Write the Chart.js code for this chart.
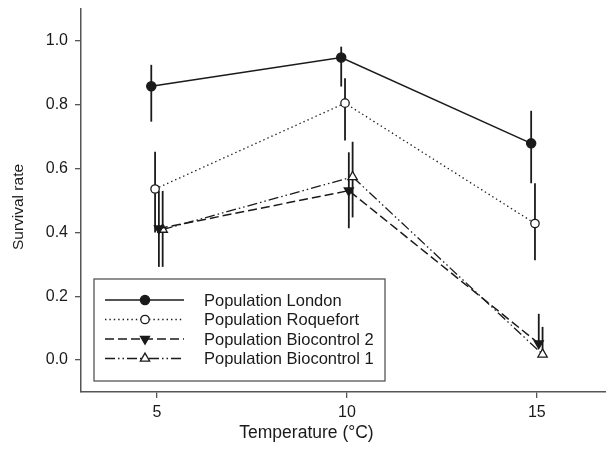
<!DOCTYPE html>
<html><head><meta charset="utf-8">
<script src="https://cdn.jsdelivr.net/npm/chart.js@4.4.1/dist/chart.umd.min.js"></script>
<style>html,body{margin:0;padding:0;background:#fff;} #wrap{width:606px;height:455px;position:relative;}</style>
</head><body><div id="wrap"><canvas id="c" width="606" height="455"></canvas></div>
<script>
// ---- data ----
const temperatures = [5, 10, 15];
const yTicks = [0, 0.2, 0.4, 0.6, 0.8, 1.0];
const seriesNames = ['Population London', 'Population Roquefort', 'Population Biocontrol 2', 'Population Biocontrol 1'];
const london = [0.858, 0.948, 0.679];
const londonUpper = [0.925, 0.982, 0.781];
const londonLower = [0.747, 0.857, 0.554];
const roquefort = [0.536, 0.805, 0.428];
const roquefortUpper = [0.653, 0.883, 0.554];
const roquefortLower = [0.400, 0.688, 0.313];
const biocontrol2 = [0.412, 0.531, 0.052];
const biocontrol2Upper = [0.530, 0.651, 0.145];
const biocontrol2Lower = [0.292, 0.413, 0.052];
const biocontrol1 = [0.409, 0.574, 0.018];
const biocontrol1Upper = [0.530, 0.684, 0.104];
const biocontrol1Lower = [0.292, 0.447, 0.018];
const dodge = [-0.15, -0.05, 0.05, 0.15];
const xTitle = 'Temperature (°C)';
const yTitle = 'Survival rate';

const FONT = '"Liberation Sans", Arial, sans-serif';
const INK = '#1a1a1a';

function pts(vals, hi, lo, k) {
  return temperatures.map((t, i) => ({ x: t + dodge[k], y: vals[i], hi: hi[i], lo: lo[i] }));
}

const styles = [
  { borderDash: [], borderWidth: 1.6, pointStyle: 'circle', pointRadius: 4.6, rot: 0, fill: INK },
  { borderDash: [1.4, 3], borderWidth: 1.3, pointStyle: 'circle', pointRadius: 4.2, rot: 0, fill: '#fff' },
  { borderDash: [9, 4], borderWidth: 1.5, pointStyle: 'triangle', pointRadius: 5.2, rot: 180, fill: INK },
  { borderDash: [10, 3, 1.5, 3, 1.5, 3], borderWidth: 1.3, pointStyle: 'triangle', pointRadius: 5.4, rot: 0, fill: '#fff' }
];
const allData = [
  pts(london, londonUpper, londonLower, 0),
  pts(roquefort, roquefortUpper, roquefortLower, 1),
  pts(biocontrol2, biocontrol2Upper, biocontrol2Lower, 2),
  pts(biocontrol1, biocontrol1Upper, biocontrol1Lower, 3)
];

const datasets = allData.map((d, k) => ({
  label: seriesNames[k],
  data: d,
  borderColor: INK,
  borderWidth: styles[k].borderWidth,
  borderDash: styles[k].borderDash,
  pointStyle: styles[k].pointStyle,
  pointRadius: styles[k].pointRadius,
  pointRotation: styles[k].rot,
  pointBackgroundColor: styles[k].fill,
  pointBorderColor: INK,
  pointBorderWidth: 1.3,
  tension: 0,
  fill: false
}));

const errorBars = {
  id: 'errorBars',
  beforeDatasetsDraw(chart) {
    const ctx = chart.ctx, xs = chart.scales.x, ys = chart.scales.y;
    ctx.save();
    ctx.strokeStyle = INK; ctx.lineWidth = 1.8; ctx.setLineDash([]);
    chart.data.datasets.forEach(ds => ds.data.forEach(p => {
      const px = xs.getPixelForValue(p.x);
      ctx.beginPath();
      ctx.moveTo(px, ys.getPixelForValue(p.hi));
      ctx.lineTo(px, ys.getPixelForValue(p.lo));
      ctx.stroke();
    }));
    ctx.restore();
  }
};

const boxLegend = {
  id: 'boxLegend',
  afterDraw(chart) {
    const ctx = chart.ctx;
    ctx.save();
    ctx.fillStyle = '#fff';
    ctx.fillRect(94, 279, 291, 102);
    ctx.strokeStyle = '#555'; ctx.lineWidth = 1.3; ctx.setLineDash([]);
    ctx.strokeRect(94, 279, 291, 102);
    const rows = [300, 319.5, 339, 358.5];
    chart.data.datasets.forEach((ds, k) => {
      const y = rows[k];
      ctx.save();
      ctx.strokeStyle = INK; ctx.lineWidth = ds.borderWidth; ctx.setLineDash(ds.borderDash);
      ctx.beginPath(); ctx.moveTo(105, y); ctx.lineTo(184, y); ctx.stroke();
      ctx.restore();
      ctx.save();
      ctx.setLineDash([]);
      ctx.fillStyle = ds.pointBackgroundColor; ctx.strokeStyle = INK; ctx.lineWidth = 1.3;
      Chart.helpers.drawPoint(ctx, { pointStyle: ds.pointStyle, radius: ds.pointRadius, rotation: ds.pointRotation, borderWidth: 1.3 }, 145, y);
      ctx.restore();
      ctx.fillStyle = INK; ctx.font = '16.5px ' + FONT; ctx.textAlign = 'left'; ctx.textBaseline = 'middle';
      ctx.fillText(ds.label, 204, y + 1);
    });
    ctx.restore();
  }
};

const axisTitles = {
  id: 'axisTitles',
  afterDraw(chart) {
    const ctx = chart.ctx;
    ctx.save();
    ctx.fillStyle = INK; ctx.textAlign = 'center'; ctx.textBaseline = 'middle';
    ctx.font = '17.5px ' + FONT;
    ctx.fillText(xTitle, 306.5, 433);
    ctx.translate(19, 207); ctx.rotate(-Math.PI / 2);
    ctx.font = '15.5px ' + FONT;
    ctx.fillText(yTitle, 0, 0);
    ctx.restore();
  }
};

new Chart(document.getElementById('c'), {
  type: 'line',
  data: { datasets },
  options: {
    responsive: false, animation: false,
    layout: { autoPadding: false, padding: { top: 9, right: 0, left: 0, bottom: 0 } },
    plugins: { legend: { display: false }, tooltip: { enabled: false } },
    scales: {
      x: {
        type: 'linear', min: 3, max: 16.82,
        afterBuildTicks: s => { s.ticks = temperatures.map(v => ({ value: v })); },
        afterFit: s => { s.height = 63; s.paddingLeft = 0; s.paddingRight = 0; },
        ticks: { font: { family: FONT, size: 16 }, color: INK, padding: 5, callback: v => String(v) },
        grid: { drawOnChartArea: false, drawTicks: true, tickLength: 6, color: '#555', lineWidth: 1.3 },
        border: { display: true, color: '#555', width: 1.5 }
      },
      y: {
        type: 'linear', min: -0.1, max: 1.1,
        afterBuildTicks: s => { s.ticks = yTicks.map(v => ({ value: v })); },
        afterFit: s => { s.width = 81; s.paddingTop = 0; s.paddingBottom = 0; },
        ticks: { font: { family: FONT, size: 16 }, color: INK, padding: 7, callback: v => Number(v).toFixed(1) },
        grid: { drawOnChartArea: false, drawTicks: true, tickLength: 6, color: '#555', lineWidth: 1.3 },
        border: { display: true, color: '#555', width: 1.5 }
      }
    }
  },
  plugins: [errorBars, boxLegend, axisTitles]
});
</script>
</body></html>
